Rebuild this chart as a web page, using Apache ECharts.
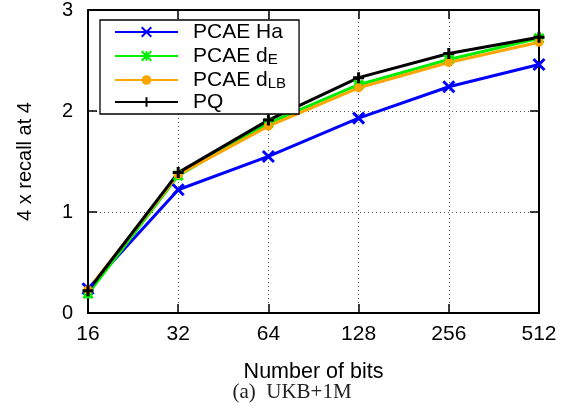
<!DOCTYPE html>
<html><head><meta charset="utf-8">
<script src="https://cdn.jsdelivr.net/npm/echarts@6/dist/echarts.min.js"></script>
<style>html,body{margin:0;padding:0;background:#fff}#c{width:565px;height:406px}</style>
</head><body><div id="c"></div>
<script>
const categories = ['16', '32', '64', '128', '256', '512'];
const yTicks = [0, 1, 2, 3];
const seriesNames = ['PCAE Ha', 'PCAE dE', 'PCAE dLB', 'PQ'];
const pcaeHa  = [0.24, 1.22, 1.55, 1.93, 2.24, 2.46];
const pcaeDE  = [0.19, 1.36, 1.88, 2.26, 2.51, 2.72];
const pcaeDLB = [0.23, 1.37, 1.85, 2.23, 2.48, 2.68];
const pq      = [0.22, 1.39, 1.91, 2.33, 2.57, 2.73];

const X_PATH = 'path://M0,0L10,10M10,0L0,10';
const PLUS_PATH = 'path://M5,0L5,10M0,5L10,5';
const STAR_PATH = 'path://M0,0L10,10M10,0L0,10M5,0L5,10M0,5L10,5';

const chart = echarts.init(document.getElementById('c'), null, {renderer: 'canvas'});
const font = 'Liberation Sans, Arial, sans-serif';
const gridLine = {show: true, lineStyle: {color: '#555', type: [1, 3], width: 1}};
const axisLine = {show: true, onZero: false, lineStyle: {color: '#000', width: 2}};
const tick = {show: true, inside: true, length: 9, lineStyle: {color: '#000', width: 1.5}};

function mk(name, data, color, symbol, size, stroke) {
  return {
    name, type: 'line', data, xAxisIndex: 0, yAxisIndex: 0,
    symbol, symbolSize: size, showSymbol: true,
    lineStyle: {color, width: 3},
    itemStyle: stroke ? {color: color, borderColor: color, borderWidth: 3} : {color: color},
    emphasis: {disabled: true}, animation: false
  };
}

chart.setOption({
  animation: false,
  grid: {left: 88, right: 26, top: 10, bottom: 93, containLabel: false},
  legend: {
    orient: 'vertical', left: 100, top: 20,
    data: seriesNames,
    itemWidth: 63, itemHeight: 12, itemGap: 0,
    backgroundColor: '#fff', borderColor: '#000', borderWidth: 1.3,
    padding: [1, 13, 1, 14],
    textStyle: {
      fontFamily: font, fontSize: 21, color: '#000', lineHeight: 22, padding: [0, 0, 0, 10],
      rich: {
        m: {fontFamily: font, fontSize: 21, color: '#000', lineHeight: 22},
        s: {fontFamily: font, fontSize: 15, color: '#000', lineHeight: 22, verticalAlign: 'bottom', padding: [9, 0, 0, 0]}
      }
    },
    formatter: function (n) {
      if (n === 'PCAE dE') return '{m|PCAE d}{s|E}';
      if (n === 'PCAE dLB') return '{m|PCAE d}{s|LB}';
      return '{m|' + n + '}';
    },
    selectedMode: false
  },
  xAxis: [{
    type: 'category', data: categories, boundaryGap: false, position: 'bottom',
    axisLine, axisTick: tick, splitLine: gridLine,
    axisLabel: {fontFamily: font, fontSize: 21, color: '#000', margin: 11},
    name: 'Number of bits', nameLocation: 'middle', nameGap: 48,
    nameTextStyle: {fontFamily: font, fontSize: 21.5, color: '#000'}
  }, {
    type: 'category', data: categories, boundaryGap: false, position: 'top',
    axisLine, axisTick: tick, axisLabel: {show: false}, splitLine: {show: false}
  }],
  yAxis: [{
    type: 'value', min: yTicks[0], max: yTicks[yTicks.length - 1], interval: 1, position: 'left',
    axisLine, axisTick: tick, splitLine: gridLine,
    axisLabel: {fontFamily: font, fontSize: 20, color: '#000', margin: 15},
    name: '4 x recall at 4', nameLocation: 'middle', nameGap: 53, nameRotate: 90,
    nameTextStyle: {fontFamily: font, fontSize: 20, color: '#000'}
  }, {
    type: 'value', min: yTicks[0], max: yTicks[yTicks.length - 1], interval: 1, position: 'right',
    axisLine, axisTick: tick, axisLabel: {show: false}, splitLine: {show: false}
  }],
  graphic: [{
    type: 'text', x: 292, y: 392,
    style: {text: '(a)  UKB+1M', font: '21px "Liberation Serif", "DejaVu Serif", serif', fill: '#222', textAlign: 'center', textVerticalAlign: 'middle'}
  }],
  series: [
    mk(seriesNames[0], pcaeHa, '#0000ff', X_PATH, 11, true),
    mk(seriesNames[1], pcaeDE, '#00ee00', STAR_PATH, 9, true),
    mk(seriesNames[2], pcaeDLB, '#ffa500', 'circle', 9, false),
    mk(seriesNames[3], pq, '#000000', PLUS_PATH, 11, true)
  ]
});
</script>
</body></html>
